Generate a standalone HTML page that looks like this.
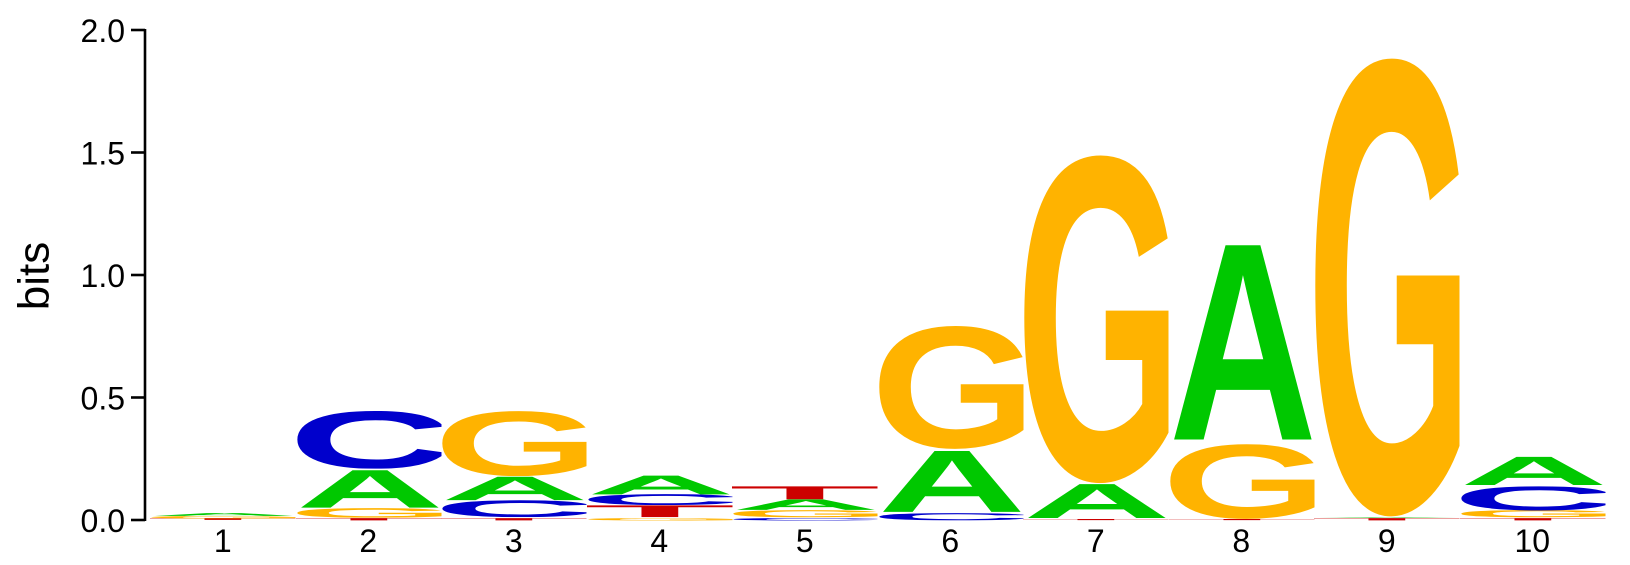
<!DOCTYPE html>
<html><head><meta charset="utf-8"><style>
html,body{margin:0;padding:0;background:#fff;width:1630px;height:565px;overflow:hidden;}
#wrap{position:relative;left:0;top:0;width:1630px;height:565px;overflow:hidden;font-family:"Liberation Sans",sans-serif;}
svg{position:absolute;left:0;top:0;display:block;font-family:"Liberation Sans",sans-serif;}
.lt{position:absolute;height:72px;overflow:hidden;transform-origin:0 0;}
.lt span{position:absolute;top:1.4px;font-size:100px;line-height:72px;font-weight:bold;white-space:nowrap;}
</style></head><body>
<div id="wrap">
<svg id="chart" width="1630" height="565" viewBox="0 0 1630 565">
<g id="axis"></g>
<g id="xlabels"></g>
<text x="37" y="276" font-size="44" text-anchor="middle" dominant-baseline="middle" transform="rotate(-90 37 276)">bits</text>
</svg>
<div id="marks"></div>
</div>
<script>
const positions = ["1","2","3","4","5","6","7","8","9","10"];
const yTicks = [0, 0.5, 1.0, 1.5, 2.0];
const yTickLabels = ["0.0","0.5","1.0","1.5","2.0"];
// stacks bottom->top: [letter, bits]
const col1 = [["T",0.008],["G",0.01],["A",0.012]];
const col2 = [["T",0.01],["G",0.04],["A",0.16],["C",0.24]];
const col3 = [["T",0.01],["C",0.07],["A",0.1],["G",0.27]];
const col4 = [["G",0.01],["T",0.05],["C",0.045],["A",0.08]];
const col5 = [["C",0.01],["G",0.03],["A",0.045],["T",0.055]];
const col6 = [["C",0.03],["A",0.26],["G",0.51]];
const col7 = [["T",0.005],["A",0.145],["G",1.36]];
const col8 = [["T",0.005],["G",0.31],["A",0.83]];
const col9 = [["T",0.01],["A",0.003],["G",1.9]];
const col10 = [["T",0.01],["G",0.03],["C",0.1],["A",0.12]];
const columns = [col1,col2,col3,col4,col5,col6,col7,col8,col9,col10];

const NS="http://www.w3.org/2000/svg";
const y0=520, pxPerBit=245, colW=145.5, left=150, axisX=145;
const yScale=v=>y0-v*pxPerBit;
const xLeft=i=>left+i*colW;
const colors={A:"#00C800",C:"#0000CC",G:"#FFB300",T:"#CC0000"};
const inkLeft={A:0,C:3.5,G:3.5,T:2};
const inkW={A:71,C:64,G:67,T:57};
const axis=document.getElementById('axis');
function mk(tag,attrs,parent){const e=document.createElementNS(NS,tag);for(const k in attrs)e.setAttribute(k,attrs[k]);parent.appendChild(e);return e;}
const line=mk('line',{x1:axisX,x2:axisX,y1:yScale(2)-1,y2:y0+1,stroke:'#000','stroke-width':2.6},axis);


yTicks.forEach((t,i)=>{
  const tk=mk('line',{x1:131,x2:axisX,y1:yScale(t),y2:yScale(t),stroke:'#000','stroke-width':2.6},axis);
  
  
  const tx=mk('text',{x:125,y:yScale(t)+12,'font-size':32,'text-anchor':'end'},axis);
  tx.textContent=yTickLabels[i];
  
  
});
const marks=document.getElementById('marks');
const xl=document.getElementById('xlabels');
columns.forEach((col,i)=>{
  const g=document.createElement('div');
  
  
  marks.appendChild(g);
  let base=0;
  col.forEach(([L,h])=>{
    const top=yScale(base+h), hp=h*pxPerBit;
    const d=document.createElement('div');
    d.className='lt';
    d.style.left=xLeft(i)+'px';
    d.style.top=top+'px';
    d.style.width=inkW[L]+'px';
    d.style.transform=`scale(${colW/inkW[L]},${hp/72})`;
    const s=document.createElement('span');
    s.style.left=(-inkLeft[L])+'px';
    s.style.color=colors[L];
    s.textContent=L;
    d.appendChild(s);
    
    
    g.appendChild(d);
    base+=h;
  });
  const lb=mk('text',{x:xLeft(i)+colW/2,y:552,'font-size':32,'text-anchor':'middle'},xl);
  lb.textContent=positions[i];
  
  
});
</script>
</body></html>
